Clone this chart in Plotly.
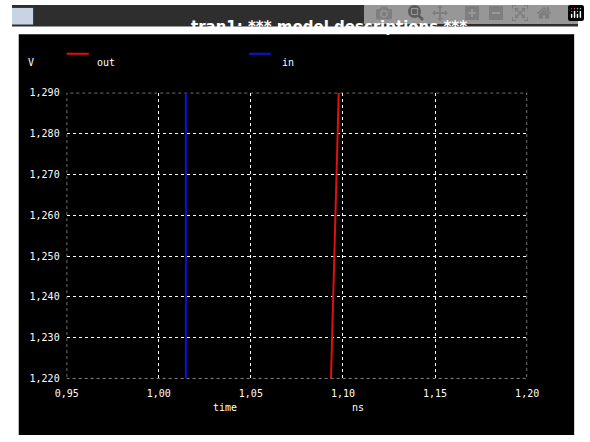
import plotly.graph_objects as go

W, H = 590, 442

# data
out_time = [1.0935, 1.0977]
out_v = [1.220, 1.290]
in_time = [1.0147, 1.0147]
in_v = [1.220, 1.290]

x_ticks = [0.95, 1.00, 1.05, 1.10, 1.15, 1.20]
x_labels = ["0,95", "1,00", "1,05", "1,10", "1,15", "1,20"]
y_ticks = [1.22, 1.23, 1.24, 1.25, 1.26, 1.27, 1.28, 1.29]
y_labels = ["1,220", "1,230", "1,240", "1,250", "1,260", "1,270", "1,280", "1,290"]


def px(x):
    return x / W


def py(y):
    return 1 - y / H


mono = dict(family="DejaVu Sans Mono", size=10, color="white")

fig = go.Figure()
fig.add_trace(go.Scatter(x=out_time, y=out_v, mode="lines", name="out",
                         line=dict(color="#e01010", width=2)))
fig.add_trace(go.Scatter(x=in_time, y=in_v, mode="lines", name="in",
                         line=dict(color="#1010e0", width=2)))

axis_common = dict(showgrid=True, gridcolor="white", griddash="dot", gridwidth=1,
                   zeroline=False, showline=False, ticks="", tickfont=mono)

fig.update_layout(
    width=W, height=H, margin=dict(l=0, r=0, t=0, b=0), autosize=False,
    paper_bgcolor="white", plot_bgcolor="rgba(0,0,0,0)", showlegend=False,
    xaxis=dict(domain=[px(57), px(537)], range=[0.95, 1.20], ticklabelstandoff=8,
               tickvals=x_ticks, ticktext=x_labels, **axis_common),
    yaxis=dict(domain=[py(383), py(90)], range=[1.22, 1.29], ticklabelstandoff=6,
               tickvals=y_ticks, ticktext=y_labels, **axis_common),
    shapes=[
        dict(type="rect", xref="paper", yref="paper", x0=0, x1=1, y0=py(22), y1=1,
             fillcolor="#2e2e2e", line_width=0, layer="below"),
        dict(type="rect", xref="paper", yref="paper", x0=px(0), x1=px(22), y0=py(20), y1=py(3),
             fillcolor="#c8d4e4", line_width=0, layer="below"),
        dict(type="rect", xref="paper", yref="paper", x0=px(7), x1=px(586), y0=py(441), y1=py(30),
             fillcolor="black", line_width=0, layer="below"),
        dict(type="rect", xref="x", yref="y", x0=0.95, x1=1.20, y0=1.22, y1=1.29,
             line=dict(color="white", width=1, dash="dot"), layer="below"),
        dict(type="line", xref="paper", yref="paper", x0=px(57), x1=px(80), y0=py(50), y1=py(50),
             line=dict(color="#e01010", width=2)),
        dict(type="line", xref="paper", yref="paper", x0=px(247), x1=px(270), y0=py(50), y1=py(50),
             line=dict(color="#1010e0", width=2)),
    ],
    annotations=[
        dict(text="<b>tran1: *** model descriptions ***</b>", x=px(330), y=py(11),
             xref="paper", yref="paper", showarrow=False,
             font=dict(family="DejaVu Sans", size=15, color="white")),
        dict(text="V", x=px(15), y=py(51), xref="paper", yref="paper", showarrow=False, font=mono),
        dict(text="out", x=px(87), y=py(51), xref="paper", yref="paper", showarrow=False,
             xanchor="left", font=mono),
        dict(text="in", x=px(279), y=py(51), xref="paper", yref="paper", showarrow=False,
             xanchor="left", font=mono),
        dict(text="time", x=px(222), y=py(420), xref="paper", yref="paper", showarrow=False, font=mono),
        dict(text="ns", x=px(361), y=py(420), xref="paper", yref="paper", showarrow=False, font=mono),
    ],
)

fig.write_html("out.html",
               post_script="document.body.style.margin='0';document.body.style.overflow='hidden';")
